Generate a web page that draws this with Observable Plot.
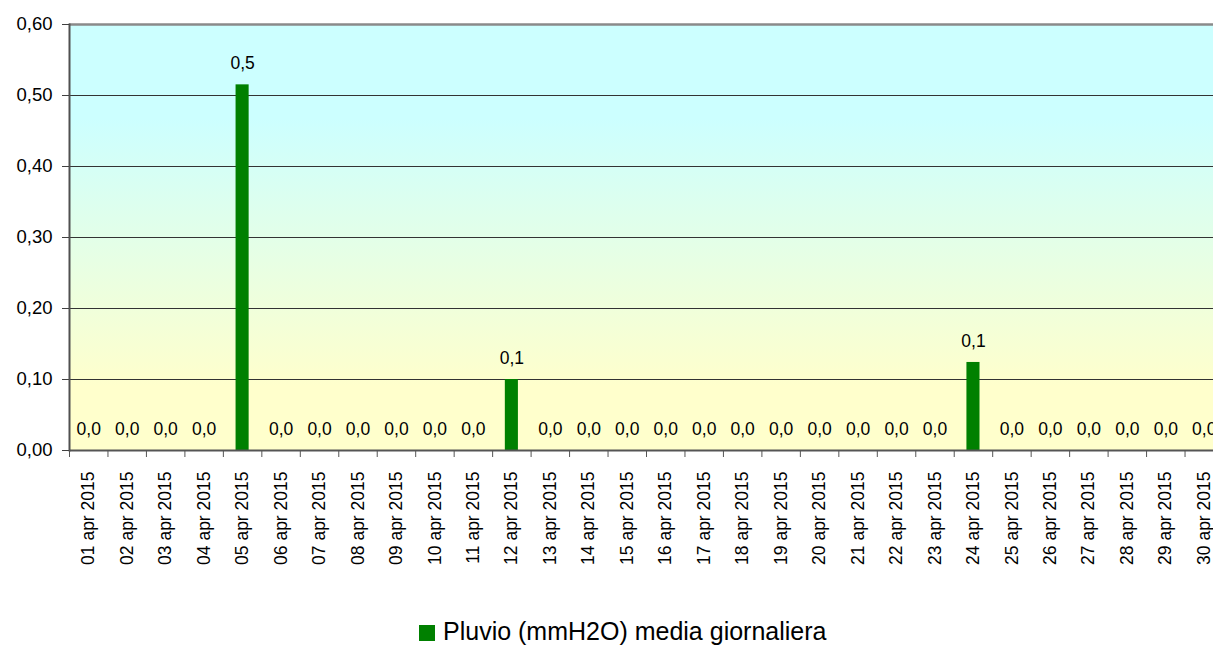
<!DOCTYPE html>
<html><head><meta charset="utf-8">
<script src="https://cdn.jsdelivr.net/npm/d3@7"></script>
<script src="https://cdn.jsdelivr.net/npm/@observablehq/plot@0.6"></script>
<style>
html,body{margin:0;padding:0;overflow:hidden;background:#fff;font-family:"Liberation Sans",Arial,sans-serif;}
#wrap{position:relative;width:1213px;height:648px;overflow:hidden;}
#chart svg{max-width:none !important;}
#legend{position:absolute;left:419px;top:617px;display:flex;align-items:center;font-size:25px;color:#000;white-space:nowrap;}
#legend .sw{width:16px;height:16px;background:#008000;margin-right:8px;margin-top:3px;}
</style>
</head><body>
<div id="wrap"><div id="chart"></div><div id="legend"><span class="sw"></span><span id="legtext"></span></div></div>
<script>
const days = ["01 apr 2015","02 apr 2015","03 apr 2015","04 apr 2015","05 apr 2015","06 apr 2015","07 apr 2015","08 apr 2015","09 apr 2015","10 apr 2015","11 apr 2015","12 apr 2015","13 apr 2015","14 apr 2015","15 apr 2015","16 apr 2015","17 apr 2015","18 apr 2015","19 apr 2015","20 apr 2015","21 apr 2015","22 apr 2015","23 apr 2015","24 apr 2015","25 apr 2015","26 apr 2015","27 apr 2015","28 apr 2015","29 apr 2015","30 apr 2015"];
const values = [0,0,0,0,0.515,0,0,0,0,0,0,0.10,0,0,0,0,0,0,0,0,0,0,0,0.124,0,0,0,0,0,0];
const yTicks = [0,0.1,0.2,0.3,0.4,0.5,0.6];
const seriesName = "Pluvio (mmH2O) media giornaliera";

const data = days.map((d,i)=>({day:d, value:values[i]}));
const fmt1 = v => v.toFixed(1).replace(".", ",");
const fmt2 = v => v.toFixed(2).replace(".", ",");
const W = 1223, ML = 69;
const step = (W - ML) / days.length;

const plot = Plot.plot({
  width: W, height: 615,
  marginLeft: ML, marginRight: 0, marginTop: 24, marginBottom: 165,
  style: {fontFamily: "Liberation Sans, Arial, sans-serif", fontSize: "17.5px", color: "#000", background: "transparent", overflow: "visible", maxWidth: "none"},
  x: {domain: days, paddingInner: 0.66, paddingOuter: 0.33, round: false, label: null},
  y: {domain: [0, 0.6], label: null},
  marks: [
    Plot.frame({fill: "url(#bgGrad)", stroke: null}),
    Plot.ruleY(yTicks.filter(t => t > 0 && t < 0.6), {stroke: "#333", strokeWidth: 1}),
    Plot.barY(data, {x: "day", y: "value", fill: "#008000"}),
    Plot.text(data, {x: "day", y: "value", text: d => fmt1(d.value), dy: -21, fontSize: 17.5, fill: "#000"}),
    Plot.ruleY([0.6], {stroke: "#8a8a8a", strokeWidth: 2.5}),
    Plot.ruleY([0], {stroke: "#555", strokeWidth: 2}),
    Plot.frame({anchor: "left", stroke: "#505050", strokeWidth: 2}),
    Plot.axisY({ticks: yTicks, tickFormat: fmt2, tickSize: 7, tickPadding: 10, stroke: "#404040", fontSize: 18.5}),
    Plot.axisX({tickSize: 7, tickFormat: () => "", dx: -step/2, stroke: "#555"}),
    Plot.axisX({tickSize: 0, tickRotate: -90, tickPadding: 21, fontSize: 17.5, fill: "#000"})
  ]
});
d3.select(plot).insert("defs", ":first-child").html(
  '<linearGradient id="bgGrad" x1="0" y1="0" x2="0" y2="1">' +
  '<stop offset="0" stop-color="#ccffff"/><stop offset="0.22" stop-color="#ccffff"/>' +
  '<stop offset="0.85" stop-color="#ffffcc"/><stop offset="1" stop-color="#ffffcc"/></linearGradient>');
document.getElementById("chart").appendChild(plot);
document.getElementById("legtext").textContent = seriesName;
</script>
</body></html>
